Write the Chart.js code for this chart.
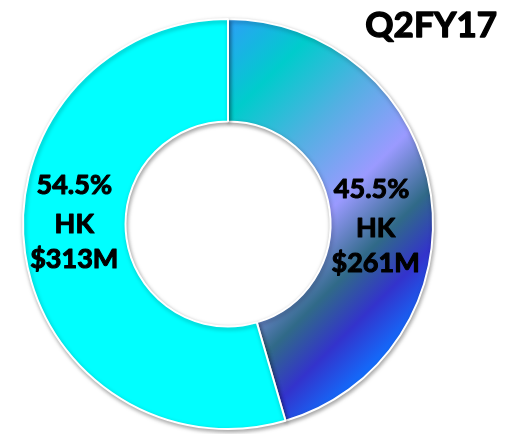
<!DOCTYPE html>
<html>
<head>
<meta charset="utf-8">
<script src="https://cdn.jsdelivr.net/npm/chart.js@4/dist/chart.umd.min.js"></script>
<style>
  body { margin: 0; background: #fff; }
  #wrap { width: 510px; height: 434px; }
</style>
</head>
<body>
<div id="wrap"><canvas id="chart" width="510" height="434"></canvas></div>
<script>
const chartTitle = 'Q2FY17';
const labels = ['HK $261M', 'HK $313M'];
const amounts = [261, 313];
const percents = ['45.5%', '54.5%'];
const currency = ['HK', 'HK'];
const amountText = ['$261M', '$313M'];

// gradient stops for the darker slice, read top-left to bottom-right
const gradStops = [
  [0.0, '#2e9ef8'],
  [0.2, '#00cccc'],
  [0.39, '#52b0e2'],
  [0.59, '#9a9aff'],
  [0.75, '#306a88'],
  [0.87, '#3333cc'],
  [1.0, '#1070ff'],
];

function sliceColor(ctx) {
  if (ctx.dataIndex === 1) return '#00ffff';
  const chart = ctx.chart;
  const area = chart.chartArea;
  if (!area) return '#3a8ae0';
  const cx = (area.left + area.right) / 2;
  const cy = (area.top + area.bottom) / 2;
  const r = Math.min(area.width, area.height) / 2;
  const g = chart.ctx.createLinearGradient(cx - 0.5 * r, cy - 0.5 * r, cx + 0.71 * r, cy + 0.71 * r);
  gradStops.forEach(([t, c]) => g.addColorStop(t, c));
  return g;
}

const shadowPlugin = {
  id: 'ringShadow',
  beforeDatasetsDraw(chart) {
    const c = chart.ctx;
    c.save();
    c.shadowColor = 'rgba(0,0,0,0.35)';
    c.shadowBlur = 4;
    c.shadowOffsetX = 1;
    c.shadowOffsetY = 2;
  },
  afterDatasetsDraw(chart) {
    chart.ctx.restore();
  },
};

// heavy text: fill plus a thin stroke, closer to the bold face in the picture
function heavyText(c, str, x, y, w) {
  c.lineWidth = w;
  c.strokeText(str, x, y);
  c.fillText(str, x, y);
}

const textPlugin = {
  id: 'sliceText',
  afterDraw(chart) {
    const c = chart.ctx;
    c.save();
    c.fillStyle = '#000';
    c.strokeStyle = '#000';
    c.lineJoin = 'round';
    c.textAlign = 'right';
    c.textBaseline = 'alphabetic';
    c.font = 'bold 35px Lato';
    heavyText(c, chartTitle, 497, 37, 1.4);

    c.textAlign = 'center';
    c.textBaseline = 'middle';
    c.font = 'bold 27px Lato';
    const meta = chart.getDatasetMeta(0);
    meta.data.forEach((arc, i) => {
      const p = arc.getProps(['x', 'y', 'startAngle', 'endAngle', 'innerRadius', 'outerRadius']);
      const mid = (p.startAngle + p.endAngle) / 2;
      const side = Math.cos(mid) >= 0 ? 1 : -1;
      const midR = (p.innerRadius + p.outerRadius) / 2;
      const x = p.x + side * midR * (side > 0 ? 0.96 : 1.0);
      const shift = side > 0 ? 3 : -1;
      heavyText(c, percents[i], x - (side > 0 ? 4 : 0), p.y - 38 + shift, 1.1);
      heavyText(c, currency[i], x, p.y + 1 + shift, 1.1);
      heavyText(c, amountText[i], x, p.y + 36 + shift, 1.1);
    });
    c.restore();
  },
};

new Chart(document.getElementById('chart'), {
  type: 'doughnut',
  data: {
    labels,
    datasets: [{
      data: amounts,
      backgroundColor: sliceColor,
      borderColor: '#ffffff',
      borderWidth: 2,
    }],
  },
  options: {
    responsive: false,
    animation: false,
    cutout: '50%',
    layout: { padding: { left: 22, right: 76, top: 18, bottom: 4 } },
    plugins: {
      legend: { display: false },
      tooltip: { enabled: false },
    },
  },
  plugins: [shadowPlugin, textPlugin],
});
</script>
</body>
</html>
